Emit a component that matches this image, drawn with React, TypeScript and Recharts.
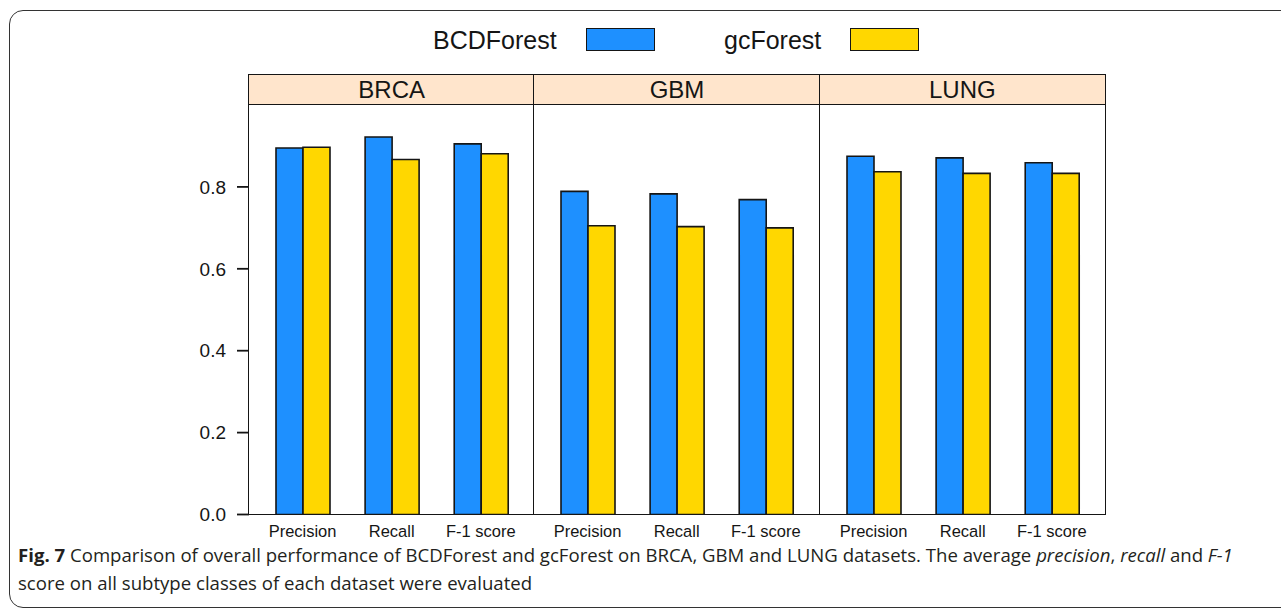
import React from "react";
import { BarChart, Bar, XAxis, YAxis } from "recharts";

const METRICS = ["Precision", "Recall", "F-1 score"];
const DATASETS = ["BRCA", "GBM", "LUNG"];

const BCD_BRCA = [0.895, 0.922, 0.905];
const GC_BRCA = [0.897, 0.867, 0.881];
const BCD_GBM = [0.789, 0.783, 0.769];
const GC_GBM = [0.705, 0.703, 0.7];
const BCD_LUNG = [0.875, 0.871, 0.859];
const GC_LUNG = [0.837, 0.833, 0.833];

const Y_TICKS = [0, 0.2, 0.4, 0.6, 0.8];

const BLUE = "#1E90FF";
const GOLD = "#FFD700";
const INK = "#151515";
const FONT = "'Liberation Sans', Arial, sans-serif";

const PANEL_LEFT = 249;
const PANEL_W = 285.33;
const STRIP_TOP = 75;
const PLOT_TOP = 105;
const PLOT_H = 409.5;
const AXIS_H = 34;
const Y_AXIS_W = 70;

const SERIES = [
  { bcd: BCD_BRCA, gc: GC_BRCA },
  { bcd: BCD_GBM, gc: GC_GBM },
  { bcd: BCD_LUNG, gc: GC_LUNG },
];

function Panel({ index }: { index: number }) {
  const s = SERIES[index];
  const data = METRICS.map((m, i) => ({ metric: m, bcd: s.bcd[i], gc: s.gc[i] }));
  const withAxis = index === 0;
  const left = PANEL_LEFT + index * PANEL_W - (withAxis ? Y_AXIS_W : 0);
  const width = PANEL_W + (withAxis ? Y_AXIS_W : 0);
  return (
    <div style={{ position: "absolute", left, top: PLOT_TOP, width, height: PLOT_H + AXIS_H }}>
      <BarChart
        width={width}
        height={PLOT_H + AXIS_H}
        data={data}
        margin={{ top: 0, right: 0, bottom: 0, left: 0 }}
        barCategoryGap={18}
        barGap={0}
      >
        <XAxis
          dataKey="metric"
          axisLine={false}
          tickLine={false}
          interval={0}
          height={AXIS_H}
          padding={{ left: 9, right: 9 }}
          tickMargin={5}
          tick={{ fill: INK, fontSize: 16.5, fontFamily: FONT }}
        />
        <YAxis
          hide={!withAxis}
          width={Y_AXIS_W}
          domain={[0, 1.0]}
          ticks={Y_TICKS}
          allowDataOverflow
          axisLine={false}
          tickLine={{ stroke: INK, strokeWidth: 1.8 }}
          tickSize={12}
          tickMargin={11}
          tickFormatter={(v: number) => v.toFixed(1)}
          tick={{ fill: INK, fontSize: 19, fontFamily: FONT }}
        />
        <Bar dataKey="bcd" fill={BLUE} stroke={INK} strokeWidth={1.6} isAnimationActive={false} />
        <Bar dataKey="gc" fill={GOLD} stroke={INK} strokeWidth={1.6} isAnimationActive={false} />
      </BarChart>
    </div>
  );
}

export default function App() {
  const line = `1.8px solid ${INK}`;
  return (
    <div style={{ position: "absolute", left: 0, top: 0, width: 1281, height: 609, overflow: "hidden", background: "#fff", fontFamily: FONT }}>
      {/* figure frame */}
      <div
        style={{
          position: "absolute",
          left: 9,
          top: 10,
          width: 1300,
          height: 598,
          border: "1.5px solid #333",
          borderRadius: 14,
          boxSizing: "border-box",
        }}
      />

      {/* legend */}
      <div style={{ position: "absolute", left: 433, top: 25, fontSize: 25, color: INK, lineHeight: "30px" }}>BCDForest</div>
      <div style={{ position: "absolute", left: 586, top: 28, width: 69, height: 23, background: BLUE, border: line, boxSizing: "border-box" }} />
      <div style={{ position: "absolute", left: 724, top: 25, fontSize: 25, color: INK, lineHeight: "30px" }}>gcForest</div>
      <div style={{ position: "absolute", left: 850, top: 28, width: 69, height: 23, background: GOLD, border: line, boxSizing: "border-box" }} />

      {/* strips */}
      {DATASETS.map((d, i) => (
        <div
          key={d}
          style={{
            position: "absolute",
            left: PANEL_LEFT + i * PANEL_W,
            top: STRIP_TOP,
            width: PANEL_W,
            height: PLOT_TOP - STRIP_TOP,
            background: "#FFE5CC",
            fontSize: 24,
            lineHeight: `${PLOT_TOP - STRIP_TOP}px`,
            textAlign: "center",
            color: INK,
          }}
        >
          {d}
        </div>
      ))}

      {DATASETS.map((d, i) => (
        <Panel key={d} index={i} />
      ))}

      {/* panel borders */}
      <div
        style={{
          position: "absolute",
          left: PANEL_LEFT - 0.9,
          top: STRIP_TOP - 0.9,
          width: PANEL_W * 3 + 1.8,
          height: PLOT_TOP - STRIP_TOP + PLOT_H + 1.8,
          border: line,
          boxSizing: "border-box",
          pointerEvents: "none",
        }}
      />
      <div style={{ position: "absolute", left: PANEL_LEFT, top: PLOT_TOP - 0.9, width: PANEL_W * 3, height: 0, borderTop: line }} />
      {[1, 2].map((i) => (
        <div
          key={i}
          style={{
            position: "absolute",
            left: PANEL_LEFT + i * PANEL_W - 0.9,
            top: STRIP_TOP,
            width: 0,
            height: PLOT_TOP - STRIP_TOP + PLOT_H,
            borderLeft: line,
          }}
        />
      ))}

      {/* caption */}
      <div
        style={{
          position: "absolute",
          left: 18,
          top: 541,
          fontFamily: "'Open Sans', sans-serif",
          fontSize: 18.6,
          lineHeight: "28px",
          color: "#231f20",
          whiteSpace: "nowrap",
        }}
      >
        <b>Fig. 7</b> Comparison of overall performance of BCDForest and gcForest on BRCA, GBM and LUNG datasets. The average{" "}
        <i>precision</i>, <i>recall</i> and <i>F-1</i>
        <br />
        score on all subtype classes of each dataset were evaluated
      </div>
    </div>
  );
}
